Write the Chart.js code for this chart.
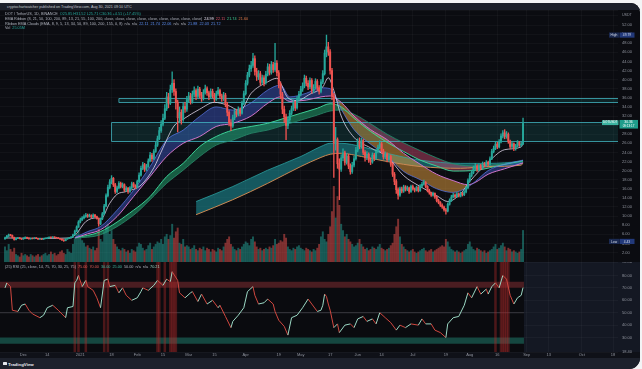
<!DOCTYPE html>
<html>
<head>
<meta charset="utf-8">
<title>DOT / TetherUS, 1D</title>
<script src="https://cdn.jsdelivr.net/npm/chart.js@4.4.1/dist/chart.umd.min.js"></script>
<style>
  html, body { margin: 0; padding: 0; }
  body { width: 642px; height: 369px; background: #f3f4f6; overflow: hidden; font-family: "Liberation Sans", Arial, sans-serif; }
  #frame { position: absolute; left: 0; top: 3px; width: 640px; height: 366px; background: #0b0c11;
           border-top-right-radius: 9px; border-bottom-right-radius: 11px; overflow: hidden; }
  #head { position: absolute; left: 0; top: 0; width: 640px; height: 7px; background: #1b1f2a; }
  #head span { position: absolute; left: 7px; top: 1.5px; font-size: 3.7px; line-height: 4px; color: #c4c7cf; white-space: nowrap; }
  #price { position: absolute; left: 0; top: 7px; }
  #rsi { position: absolute; left: 0; top: 259px; background: #141823; }
  #foot { position: absolute; left: 0; top: 355px; width: 640px; height: 11px; background: #1d212c; }
  #foot span { position: absolute; left: 8px; top: 3.5px; font-size: 4.4px; line-height: 5px; font-weight: bold; color: #e6e8ee; }
  #foot i { position: absolute; left: 2.5px; top: 4px; width: 4.5px; height: 3.2px; background: #e6e8ee; border-radius: 0.6px; }
  .leg { position: absolute; left: 5px; font-size: 3.8px; line-height: 4px; color: #aeb2bc; white-space: nowrap; z-index: 2; }
  .leg b { font-weight: normal; margin-left: 2px; }
</style>
</head>
<body>
<div id="frame">
  <div id="head"><span>cryptochartwatcher published on TradingView.com, Aug 30, 2021 09:10 UTC</span></div>
  <canvas id="price" width="640" height="252"></canvas>
  <canvas id="rsi" width="640" height="96"></canvas>
  <div class="leg" id="leg1" style="top:9.3px"></div>
  <div class="leg" style="top:14px">EMA Ribbon (8, 21, 50, 100, 200, 89, 13, 21, 55, 100, 200, close, close, close, close, close, close, close, close, close)<b style="color:#e9e3f3">24.99</b><b style="color:#e0556a">22.11</b><b style="color:#3fcf95">21.74</b><b style="color:#e07a4a">21.60</b></div>
  <div class="leg" style="top:19px">Ribbon EMA Clouds (EMA, 8, 9, 5, 13, 34, 50, 89, 100, 200, 155, 0, 8)<b>n/a</b><b>n/a</b><b style="color:#5b8df0">22.11</b><b style="color:#5b8df0">21.74</b><b style="color:#5b8df0">22.06</b><b>n/a</b><b>n/a</b><b style="color:#5b8df0">21.88</b><b style="color:#5b8df0">22.03</b><b style="color:#5b8df0">21.72</b></div>
  <div class="leg" id="leg4" style="top:23.3px"></div>
  <div class="leg" id="legRsi" style="top:261.5px"></div>
  <div id="foot"><i></i><span>TradingView</span></div>
</div>

<script>
// ---- daily candles (day 0 = first visible candle, Nov 21 2020) ----
const firstOpen = 5.0;
const closes = [
  5.25, 5.6, 5.9, 5.75, 5.3, 4.85, 5.1, 5.2, 5.05, 4.95,
  5.15, 5.3, 5.2, 5.0, 5.1, 5.05, 5.2, 5.1, 4.95, 5.0,
  4.9, 5.05, 5.1, 5.2, 5.35, 5.25, 5.4, 5.3, 5.2, 5.1,
  4.95, 4.75, 4.6, 4.95, 5.1, 5.25, 5.4, 5.9, 6.7, 7.6,
  8.7, 9.2, 9.6, 9.9, 10.2, 9.95, 10.1, 9.8, 10.2, 9.9,
  9.5, 8.3, 9.4, 10.5, 12.2, 14.5, 16.3, 17.5, 18.3, 16.9,
  15.4, 16.2, 17.2, 16.5, 16.9, 15.7, 16.1, 15.4, 16.2, 17.1,
  16.6, 16.3, 17.6, 19.0, 20.5, 21.3, 20.3, 20.9, 22.1, 23.4,
  22.6, 24.2, 25.6, 27.0, 28.8, 30.2, 31.5, 33.6, 36.2, 34.8,
  37.8, 39.2, 37.4, 35.0, 31.6, 32.8, 31.2, 34.1, 33.5, 35.6,
  36.4, 35.2, 36.8, 37.6, 36.3, 37.9, 36.6, 35.9, 37.2, 38.0,
  37.1, 36.2, 37.4, 36.5, 35.7, 36.9, 37.6, 36.4, 35.8, 36.6,
  34.5, 32.8, 30.5, 29.8, 31.6, 33.0, 32.4, 33.4, 32.6, 34.8,
  36.9, 39.2, 41.0, 42.4, 43.1, 44.6, 41.8, 40.6, 41.3, 39.4,
  40.4, 39.3, 41.2, 42.8, 41.6, 43.3, 42.2, 43.6, 41.5, 39.0,
  36.8, 33.5, 31.8, 29.9, 31.2, 32.6, 33.6, 34.9, 33.8, 35.7,
  36.8, 37.9, 38.6, 40.3, 39.2, 38.4, 39.8, 37.6, 38.3, 39.6,
  38.2, 37.4, 39.5, 41.3, 45.8, 47.2, 46.1, 42.0, 36.4, 26.0,
  26.8, 21.5, 20.3, 22.8, 23.9, 21.8, 23.2, 21.0, 19.8, 21.2,
  22.6, 24.5, 26.4, 25.3, 26.6, 24.0, 22.8, 23.6, 22.3, 21.9,
  23.4, 22.7, 24.2, 25.1, 25.9, 24.3, 23.0, 23.6, 22.4, 23.1,
  21.4, 19.2, 17.6, 15.8, 14.6, 16.0, 15.5, 16.4, 15.9, 16.2,
  15.4, 16.5, 16.0, 15.7, 16.3, 15.6, 16.6, 17.0, 17.4, 16.5,
  15.6, 15.1, 14.6, 15.0, 14.2, 13.4, 13.0, 12.4, 12.0, 11.4,
  11.1, 12.6, 13.4, 14.2, 14.6, 14.3, 14.9, 14.4, 15.0, 14.7,
  15.3, 16.2, 17.8, 18.9, 19.6, 20.5, 21.0, 20.3, 21.1, 20.6,
  21.5, 21.2, 21.8, 21.4, 22.6, 24.2, 24.9, 25.8, 25.2, 26.3,
  27.6, 28.3, 27.5, 28.0, 26.4, 25.3, 25.9, 24.8, 25.4, 26.2,
  25.6, 25.85, 30.36
];
const highs = [
  5.4, 5.75, 6.05, 6.0, 5.85, 5.4, 5.2, 5.32, 5.28, 5.12,
  5.24, 5.42, 5.38, 5.25, 5.18, 5.16, 5.28, 5.26, 5.14, 5.08,
  5.05, 5.12, 5.18, 5.3, 5.45, 5.42, 5.5, 5.46, 5.36, 5.26,
  5.14, 5.0, 4.82, 5.02, 5.18, 5.34, 5.52, 6.05, 6.9, 7.85,
  9.0, 9.55, 9.9, 10.3, 10.6, 10.45, 10.45, 10.3, 10.5, 10.4,
  10.0, 9.6, 9.6, 10.8, 12.6, 14.9, 16.8, 18.0, 18.9, 18.5,
  17.2, 16.6, 17.6, 17.5, 17.3, 17.1, 16.5, 16.3, 16.5, 17.5,
  17.4, 16.9, 17.9, 19.5, 21.0, 21.8, 21.6, 21.4, 22.6, 24.0,
  23.8, 24.6, 26.2, 27.6, 29.5, 31.0, 32.4, 34.5, 37.2, 37.0,
  38.8, 41.7, 40.0, 38.0, 35.5, 34.0, 33.4, 34.8, 35.0, 36.3,
  37.2, 37.0, 37.5, 38.4, 38.0, 38.6, 38.3, 37.2, 37.8, 38.8,
  38.4, 37.5, 38.0, 37.9, 37.0, 37.5, 38.3, 37.9, 36.8, 37.2,
  37.0, 35.0, 33.2, 31.2, 32.2, 33.6, 33.5, 34.0, 33.8, 35.3,
  37.5, 39.8, 41.6, 43.2, 44.0, 45.8, 45.2, 42.5, 42.0, 41.8,
  41.0, 40.9, 41.8, 43.5, 43.4, 44.0, 43.8, 48.0, 44.2, 42.0,
  39.5, 37.2, 34.2, 32.4, 31.8, 33.2, 34.2, 35.5, 35.3, 36.3,
  37.4, 38.5, 39.3, 41.0, 40.8, 39.8, 40.4, 40.2, 38.9, 40.2,
  40.0, 38.7, 40.0, 42.0, 46.5, 49.79, 48.2, 46.6, 42.5, 37.0,
  29.5, 27.2, 22.6, 23.5, 24.8, 24.3, 23.8, 23.6, 21.5, 21.8,
  23.2, 25.1, 27.0, 27.2, 27.1, 26.9, 24.4, 24.2, 23.9, 22.8,
  23.9, 23.8, 24.7, 25.6, 26.6, 26.2, 24.7, 24.1, 23.9, 23.6,
  23.4, 21.7, 19.6, 18.0, 16.2, 16.4, 16.4, 16.8, 16.7, 16.6,
  16.4, 16.8, 16.8, 16.2, 16.6, 16.5, 16.9, 17.4, 17.9, 17.6,
  16.7, 15.9, 15.3, 15.3, 15.1, 14.4, 13.7, 13.2, 12.7, 12.2,
  11.7, 12.9, 13.8, 14.6, 15.0, 14.9, 15.2, 15.1, 15.3, 15.2,
  15.6, 16.5, 18.2, 19.4, 20.1, 21.0, 21.6, 21.3, 21.5, 21.4,
  21.9, 21.8, 22.2, 22.1, 23.0, 24.7, 25.4, 26.4, 26.2, 26.8,
  28.1, 28.8, 29.0, 28.6, 28.3, 26.7, 26.3, 26.1, 25.8, 26.6,
  26.4, 26.2, 31.52
];
const lows = [
  4.92, 5.15, 5.5, 5.62, 5.2, 4.7, 4.78, 5.02, 4.98, 4.85,
  4.9, 5.08, 5.12, 4.92, 4.94, 4.98, 5.0, 5.04, 4.88, 4.9,
  4.82, 4.86, 5.0, 5.05, 5.15, 5.18, 5.2, 5.24, 5.12, 5.02,
  4.86, 4.66, 4.43, 4.56, 4.9, 5.05, 5.2, 5.35, 5.85, 6.6,
  7.5, 8.5, 9.0, 9.4, 9.7, 9.7, 9.8, 9.6, 9.65, 9.7,
  9.3, 7.8, 8.1, 9.2, 10.3, 12.0, 14.2, 16.0, 17.1, 16.5,
  15.0, 15.1, 16.0, 16.2, 16.2, 15.4, 15.4, 15.0, 15.2, 16.0,
  16.3, 16.0, 16.2, 17.4, 18.8, 20.2, 19.8, 20.0, 20.7, 21.9,
  22.0, 22.4, 24.0, 25.3, 26.8, 28.4, 29.8, 31.2, 33.2, 33.8,
  34.5, 37.2, 36.5, 33.5, 28.5, 30.5, 30.2, 30.8, 32.8, 33.0,
  35.0, 34.6, 34.8, 36.2, 35.6, 36.0, 36.0, 35.2, 35.5, 36.8,
  36.5, 35.6, 35.9, 36.0, 35.1, 35.4, 36.5, 35.9, 35.2, 35.4,
  34.0, 32.0, 29.8, 28.8, 29.5, 31.2, 31.8, 32.0, 32.0, 32.4,
  34.5, 36.6, 38.8, 40.6, 41.8, 42.7, 41.0, 39.8, 40.0, 38.8,
  39.0, 38.6, 39.0, 40.8, 41.0, 41.2, 41.6, 41.8, 40.8, 38.2,
  35.8, 32.5, 30.6, 26.8, 29.2, 30.8, 32.2, 33.2, 33.2, 33.5,
  35.3, 36.4, 37.4, 38.2, 38.6, 37.8, 38.0, 37.0, 37.1, 38.0,
  37.6, 36.8, 37.1, 39.1, 41.0, 45.0, 45.3, 41.2, 35.6, 18.5,
  24.5, 20.5, 13.6, 19.8, 22.2, 21.2, 21.4, 20.4, 19.2, 19.4,
  20.8, 22.3, 24.1, 24.8, 24.9, 23.5, 22.1, 22.4, 21.8, 21.3,
  21.6, 22.2, 22.4, 23.9, 24.8, 23.8, 22.5, 22.6, 21.9, 22.0,
  20.9, 18.7, 16.9, 15.0, 13.7, 14.3, 15.1, 15.2, 15.5, 15.6,
  15.0, 15.2, 15.7, 15.3, 15.5, 15.3, 15.4, 16.3, 16.8, 16.2,
  15.3, 14.8, 14.3, 14.4, 13.9, 13.1, 12.7, 12.1, 11.7, 11.1,
  10.4, 10.9, 12.4, 13.2, 14.0, 14.0, 14.1, 14.2, 14.2, 14.4,
  14.5, 15.1, 16.0, 17.5, 18.6, 19.3, 20.1, 19.8, 20.0, 20.2,
  20.4, 20.8, 21.0, 21.0, 21.2, 22.4, 23.9, 24.6, 24.8, 25.0,
  26.1, 27.2, 27.0, 27.1, 26.0, 24.9, 25.0, 24.4, 24.5, 25.2,
  25.3, 25.3, 25.71
];
// volume in millions
const volumes = [
  12, 9, 14, 10, 8, 11,
  6, 5, 4, 7, 5, 6, 5, 4, 6, 5, 4, 5, 6, 4, 5, 6, 7, 5, 6, 8, 6, 7, 5, 6, 8, 9, 7, 6, 10, 8, 7,
  14, 18, 22, 25, 20, 17, 15, 12, 13, 11, 10, 12, 9, 11, 26, 18, 16, 24, 28, 30, 22, 25,
  18, 14, 12, 10, 9, 11, 10, 8, 9, 7, 10, 9, 8, 12, 15, 14, 11, 9, 10,
  13, 15, 10, 12, 14, 16, 15, 18, 14, 20, 22, 18, 21, 30, 19, 24, 27, 15, 14, 18, 12, 13,
  12, 10, 11, 13, 10, 9, 11, 10, 12, 9, 11, 10, 8, 10, 9, 8, 11, 10, 9, 12, 15, 18, 20, 14, 12, 10, 9, 11, 10,
  12, 14, 16, 15, 13, 18, 20, 16, 12, 10, 11, 9, 10, 11, 10, 12, 11, 13, 18, 14, 15, 17, 16, 22, 19,
  12, 10, 9, 11, 10, 12, 13, 11, 10, 9, 11, 10, 9, 8, 10, 9, 11, 14, 20, 24, 18, 16, 22, 28,
  40, 60, 35, 52, 45, 30, 25, 20, 22, 18, 16, 14, 12, 13, 15, 18, 14, 12, 10, 11, 9, 10, 12, 11, 10, 12, 14, 11, 10, 9, 10, 11, 13,
  15, 22, 28, 34, 20, 14, 12, 10, 9, 8, 9, 10, 8, 7, 8, 9, 10, 11, 9, 8, 9, 10, 8, 9, 10, 11, 12, 13, 12, 18,
  16, 12, 10, 9, 8, 9, 8, 7, 8, 9, 10, 14, 16, 12, 10, 9, 11, 10, 9, 8, 9, 7, 8, 9, 10, 12, 14, 10, 11, 13,
  15, 12, 9, 11, 10, 8, 9, 8, 7, 8, 10, 25.05
];

// EMA ribbon lines, read as sparse points (day, price)
const fastDays = [0, 20, 36, 39, 44, 50, 52, 57, 61, 66, 74, 81, 86, 92, 97, 106, 114, 121, 128, 134, 143, 148, 154, 159, 166, 173, 176, 179, 183, 190, 199, 208, 217, 226, 235, 241, 248, 253, 262, 272, 281, 282];
const fastVals = [5.2, 5.1, 5.2, 6.2, 8.8, 9.6, 9.3, 12.8, 14.8, 15.4, 16.8, 20.6, 25.0, 29.8, 31.3, 33.5, 35.0, 34.4, 33.2, 37.0, 39.5, 40.3, 36.0, 35.4, 36.8, 38.4, 40.4, 37.6, 32.0, 27.3, 25.0, 23.1, 18.9, 16.5, 14.5, 13.2, 14.9, 17.6, 21.4, 24.6, 25.2, 25.9];

const cloud1Days = [38, 45, 52, 61, 70, 79, 88, 97, 106, 115, 124, 134, 143, 150, 155, 164, 172, 177, 183, 190, 199, 208, 217, 226, 235, 244, 252, 256, 263, 272, 282];
const cloud1Fast = [5.3, 6.6, 7.7, 11.3, 15.7, 20.9, 26.7, 28.9, 31.9, 34.0, 33.3, 34.9, 37.7, 38.8, 36.2, 37.0, 38.2, 38.0, 33.5, 29.0, 25.8, 23.2, 19.8, 18.0, 16.0, 15.2, 16.4, 17.6, 20.0, 21.4, 22.3];
const cloud1Slow = [5.2, 6.1, 7.0, 9.9, 14.3, 18.7, 23.1, 26.0, 27.5, 29.7, 30.4, 32.0, 34.8, 36.2, 35.2, 35.5, 36.2, 36.4, 35.0, 32.0, 29.0, 26.8, 23.8, 21.4, 19.2, 17.8, 16.9, 17.4, 19.2, 20.4, 21.7];

const cloud2Days = [38, 52, 70, 79, 88, 97, 106, 115, 124, 134, 143, 152, 161, 170, 177, 183, 190, 199, 208, 217, 226, 235, 244, 257, 270, 281, 282];
const cloud2Fast = [5.2, 6.6, 11.3, 14.3, 18.7, 21.6, 25.3, 27.5, 28.9, 29.7, 30.4, 31.5, 32.6, 33.7, 34.7, 34.0, 31.5, 28.6, 26.2, 24.2, 22.3, 21.0, 19.9, 20.1, 21.2, 22.1, 22.2];
const cloud2Slow = [5.15, 5.9, 10.2, 13.6, 17.2, 20.1, 23.1, 25.6, 26.7, 28.2, 28.9, 30.0, 31.1, 32.2, 33.1, 33.3, 32.4, 30.3, 28.0, 26.1, 24.4, 22.8, 21.5, 21.0, 21.4, 21.95, 21.95];

const cloud3Days = [104, 124, 143, 161, 172, 177, 183, 194, 208, 226, 248, 263, 281, 282];
const cloud3Fast = [13.2, 16.5, 20.1, 23.1, 25.3, 26.0, 26.0, 25.3, 23.8, 22.3, 21.6, 21.6, 22.0, 22.05];
const cloud3Slow = [10.3, 13.6, 17.2, 20.9, 22.9, 23.6, 23.8, 23.1, 22.0, 20.9, 20.5, 20.9, 21.2, 21.7];

// horizontal zones (start day, top, bottom price)
const zoneStart = [62, 58];
const zoneTop = [35.9, 30.75];
const zoneBottom = [35.15, 26.57];

// RSI pane
const rsiDays = [0, 1, 3, 4, 7, 9, 11, 13, 15, 19, 21, 23, 26, 29, 31, 33, 34, 37, 38, 39,
  40, 42, 44, 45, 48, 50, 52, 54, 56, 57, 60, 62, 64, 66, 69, 72, 74, 75, 78, 81,
  83, 86, 88, 90, 91, 94, 95, 98, 101, 102, 105, 107, 110, 113, 116, 117, 120, 123, 124, 127,
  130, 132, 135, 136, 138, 141, 143, 146, 147, 149, 152, 154, 156, 159, 162, 165, 167, 170, 172, 173,
  174, 175, 176, 177, 179, 181, 182, 185, 188, 190, 192, 195, 197, 200, 202, 204, 207, 210, 213, 215,
  218, 221, 225, 227, 229, 232, 234, 237, 240, 241, 244, 247, 250, 252, 254, 257, 259, 262, 263, 265,
  267, 269, 271, 273, 275, 277, 279, 281, 282];
const rsiValues = [70, 74, 71, 52, 51, 56, 57, 52, 49, 46, 48, 54, 56, 52, 49, 46, 54, 55, 74, 76,
  80, 71, 76, 71, 68, 62, 54, 76, 77, 71, 72, 66, 70, 64, 60, 62, 67, 70, 68, 72,
  76, 72, 77, 75, 83, 76, 66, 62, 66, 67, 59, 65, 57, 60, 54, 56, 47, 38, 43, 48,
  54, 67, 71, 64, 57, 58, 61, 57, 51, 44, 39, 32, 46, 48, 54, 61, 57, 51, 52, 56,
  65, 63, 57, 52, 38, 41, 34, 40, 41, 38, 45, 47, 43, 45, 41, 50, 46, 42, 36, 40,
  38, 41, 40, 45, 41, 41, 36, 34, 30, 41, 46, 47, 56, 66, 62, 71, 65, 69, 65, 71,
  74, 70, 80, 77, 64, 57, 62, 64, 70.21];
const rsiHotDays = [38, 40, 44, 54, 56, 83, 84, 87, 90, 91, 92, 93, 267, 270, 271, 272, 273, 274];
const rsiUpperBand = [70, 75];
const rsiLowerBand = [25, 30];
const rsiMid = 50;

// time axis
const dateTickDays = [10, 23, 41, 58, 72, 86, 100, 114, 131, 149, 161, 177, 192, 205, 222, 240, 253, 268, 284, 296, 314, 331];
const dateTickLabels = ['Dec', '14', '2021', '18', 'Feb', '15', 'Mar', '15', 'Apr', '19', 'May', '17', 'Jun', '14', 'Jul', '19', 'Aug', '16', 'Sep', '13', 'Oct', '18'];

// ---- view window ----
const PX_PER_DAY = 1.837, FIRST_X = 5, PLOT_RIGHT = 618, AXIS_W = 22;
const X_MIN = -FIRST_X / PX_PER_DAY;
const X_MAX = (PLOT_RIGHT - FIRST_X) / PX_PER_DAY;
const P_MIN = -0.09, P_MAX = 55.3, VOL_MAX = 200;
const R_MIN = 18.4, R_MAX = 90.8;
const FONT = '"Liberation Sans", Arial, sans-serif';
const GRID = 'rgba(255,255,255,0.03)';
const LABEL = '#8f939d';
const UP = '#26a69a', DOWN = '#ef5350';

const opens = closes.map((c, i) => (i === 0 ? firstOpen : closes[i - 1]));
const isUp = closes.map((c, i) => c >= opens[i]);
const lastDay = closes.length - 1;
const maxHigh = Math.max(...highs), minLow = Math.min(...lows);
const pts = (days, vals) => days.map((d, i) => ({ x: d, y: vals[i] }));

// legend text from the data
const lastClose = closes[lastDay], chg = lastClose - opens[lastDay];
document.getElementById('leg1').innerHTML = 'DOT / TetherUS, 1D, BINANCE' +
  `<b style="color:${UP}">O${opens[lastDay].toFixed(2)} H${highs[lastDay].toFixed(2)} L${lows[lastDay].toFixed(2)} C${lastClose.toFixed(2)} +${chg.toFixed(2)} (+${(chg / opens[lastDay] * 100).toFixed(2)}%)</b>`;
document.getElementById('leg4').innerHTML = `Vol<b style="color:${UP}">${volumes[lastDay].toFixed(2)}M</b>`;
document.getElementById('legRsi').innerHTML = '(25) RSI (25, close, 14, 75, 70, 30, 25, 75)' +
  '<b style="color:#e25b57">75.00</b><b style="color:#e25b57">70.00</b><b style="color:#3fb79f">30.00</b><b style="color:#3fb79f">25.00</b><b>50.00</b><b>n/a</b><b>n/a</b>' +
  `<b style="color:#9bd8c4">${rsiValues[rsiValues.length - 1].toFixed(2)}</b>`;

function lineSet(data, color, width, order, fill) {
  return { type: 'line', data, borderColor: color, borderWidth: width, pointRadius: 0,
           cubicInterpolationMode: 'monotone', order, fill: fill || false, clip: 0 };
}

// zones drawn through the scales
const zonesPlugin = {
  id: 'zones',
  beforeDatasetsDraw(chart) {
    const { ctx, chartArea: a, scales: { x, y } } = chart;
    ctx.save();
    zoneStart.forEach((d, k) => {
      const x0 = x.getPixelForValue(d);
      const y0 = Math.round(y.getPixelForValue(zoneTop[k])) + 0.5;
      const y1 = Math.round(y.getPixelForValue(zoneBottom[k])) + 0.5;
      ctx.fillStyle = 'rgba(40,190,185,0.13)';
      ctx.fillRect(x0, y0, a.right - x0, y1 - y0);
      ctx.strokeStyle = 'rgba(70,190,200,0.75)';
      ctx.lineWidth = 1;
      ctx.beginPath();
      ctx.moveTo(a.right, y0); ctx.lineTo(x0, y0); ctx.lineTo(x0, y1); ctx.lineTo(a.right, y1);
      ctx.stroke();
    });
    ctx.restore();
  }
};

// price-scale tags (high / low / last)
const tagsPlugin = {
  id: 'tags',
  afterDraw(chart) {
    const { ctx, scales: { y } } = chart;
    const f = s => `${s}px ${FONT}`;
    ctx.save();
    ctx.textBaseline = 'middle';
    ctx.textAlign = 'left';
    ctx.fillStyle = LABEL;
    ctx.font = f(3.6);
    ctx.fillText('USDT', 622, 5);
    ctx.textAlign = 'center';
    [['High', maxHigh], ['Low', minLow]].forEach(([name, v]) => {
      const py = y.getPixelForValue(v);
      ctx.fillStyle = '#1b2a52';
      ctx.fillRect(609, py - 2.6, 10, 5.2);
      ctx.fillStyle = '#22397a';
      ctx.fillRect(619.5, py - 2.6, 15, 5.2);
      ctx.fillStyle = '#d5dbe8';
      ctx.font = f(3.3);
      ctx.fillText(name, 614, py + 0.2);
      ctx.fillText(v.toFixed(2), 627, py + 0.2);
    });
    const ly = y.getPixelForValue(lastClose);
    ctx.fillStyle = '#3bb3a0';
    ctx.fillRect(602, ly - 3.2, 16.5, 4.8);
    ctx.fillStyle = '#1f9d8b';
    ctx.fillRect(619.5, ly - 3.5, 18.5, 8.6);
    ctx.fillStyle = '#ffffff';
    ctx.font = f(3.4);
    ctx.fillText(lastClose.toFixed(2), 628.5, ly - 1.2);
    ctx.font = f(3);
    ctx.fillText('09:13:17', 628.5, ly + 2.6);
    ctx.fillText('DOTUSDT', 610.2, ly - 0.8);
    ctx.restore();
  }
};

const xScale = (showLabels, h) => ({
  type: 'linear', min: X_MIN, max: X_MAX, offset: false,
  grid: { color: GRID, drawTicks: false, offset: false },
  border: { display: false },
  ticks: { display: showLabels, autoSkip: false, maxRotation: 0, padding: 0.6, color: LABEL,
           font: { size: 4, family: FONT }, callback: (v, i) => dateTickLabels[i] },
  afterBuildTicks: s => { s.ticks = dateTickDays.map(v => ({ value: v })); },
  afterFit: s => { s.height = h; s.paddingLeft = 0; s.paddingRight = 0; }
});

// ---- price pane ----
new Chart(document.getElementById('price'), {
  type: 'bar',
  data: {
    datasets: [
      { type: 'bar', data: volumes.map((v, i) => ({ x: i, y: v })), yAxisID: 'yv',
        backgroundColor: isUp.map(u => (u ? 'rgba(38,166,154,0.5)' : 'rgba(239,83,80,0.5)')),
        barThickness: 1.3, grouped: false, order: 9, clip: 0 },
      lineSet(pts(cloud3Days, cloud3Slow), '#c98a55', 1, 8),
      lineSet(pts(cloud3Days, cloud3Fast), 'rgba(45,170,170,0.9)', 0.8, 7,
        { target: 1, above: 'rgba(28,140,148,0.6)', below: 'rgba(190,90,70,0.45)' }),
      lineSet(pts(cloud2Days, cloud2Slow), '#23916d', 0.8, 6),
      lineSet(pts(cloud2Days, cloud2Fast), '#3ccf95', 1, 5,
        { target: 3, above: 'rgba(34,160,110,0.55)', below: 'rgba(190,70,105,0.5)' }),
      lineSet(pts(cloud1Days, cloud1Slow), '#cf74cc', 1, 4),
      lineSet(pts(cloud1Days, cloud1Fast), 'rgba(90,120,230,0.9)', 0.8, 3,
        { target: 5, above: 'rgba(62,92,205,0.45)', below: 'rgba(215,150,60,0.55)' }),
      lineSet(pts(fastDays, fastVals), 'rgba(232,222,242,0.85)', 0.9, 2),
      { type: 'bar', data: closes.map((c, i) => ({ x: i, y: [lows[i], highs[i]] })),
        backgroundColor: isUp.map(u => (u ? UP : DOWN)), barThickness: 0.7, grouped: false, order: 1, clip: 0 },
      { type: 'bar', data: closes.map((c, i) => ({ x: i, y: [opens[i], c] })),
        backgroundColor: isUp.map(u => (u ? UP : DOWN)), barThickness: 1.3, minBarLength: 0.6,
        grouped: false, order: 0, clip: 0 }
    ]
  },
  options: {
    responsive: false, animation: false, events: [],
    layout: { padding: 0 },
    plugins: { legend: { display: false }, tooltip: { enabled: false }, filler: { drawTime: 'beforeDatasetsDraw' } },
    scales: {
      x: xScale(false, 0),
      y: { position: 'right', min: P_MIN, max: P_MAX,
           grid: { color: GRID, drawTicks: false }, border: { display: false },
           ticks: { stepSize: 2, padding: 4, color: LABEL, font: { size: 4, family: FONT },
                    callback: v => (v <= 0 || v > 52 ? '' : v.toFixed(2)) },
           afterFit: s => { s.width = AXIS_W; s.paddingTop = 0; s.paddingBottom = 0; } },
      yv: { display: false, min: 0, max: VOL_MAX }
    }
  },
  plugins: [zonesPlugin, tagsPlugin]
});

// ---- RSI pane ----
const spanLine = v => [{ x: X_MIN - 1, y: v }, { x: lastDay + 0.5, y: v }];
const rowPlugin = {
  id: 'row',
  beforeDraw(chart) {
    const { ctx, chartArea: a } = chart;
    ctx.save();
    ctx.fillStyle = '#0f1118';
    ctx.fillRect(0, a.bottom, chart.width, chart.height - a.bottom);
    ctx.restore();
  }
};
new Chart(document.getElementById('rsi'), {
  type: 'line',
  data: {
    datasets: [
      { data: pts(rsiDays, rsiValues), borderWidth: 1, pointRadius: 0, tension: 0, order: 0, clip: 0,
        segment: { borderColor: c => (c.p1.parsed.y >= c.p0.parsed.y ? '#9bd8c4' : '#d0473f') } },
      { type: 'bar', data: rsiHotDays.map(d => ({ x: d, y: [0, 100] })),
        backgroundColor: 'rgba(170,40,40,0.42)', barThickness: 1.9, grouped: false, order: 1, clip: 0 },
      { data: spanLine(rsiMid), borderColor: 'rgba(150,150,160,0.35)', borderWidth: 1, pointRadius: 0, order: 2, clip: 0 },
      { data: spanLine(rsiUpperBand[1]), borderWidth: 0, pointRadius: 0, order: 3, clip: 0,
        fill: 4, backgroundColor: 'rgba(165,55,60,0.42)' },
      { data: spanLine(rsiUpperBand[0]), borderWidth: 0, pointRadius: 0, order: 4, clip: 0 },
      { data: spanLine(rsiLowerBand[1]), borderWidth: 0, pointRadius: 0, order: 5, clip: 0,
        fill: 6, backgroundColor: 'rgba(35,145,125,0.45)' },
      { data: spanLine(rsiLowerBand[0]), borderWidth: 0, pointRadius: 0, order: 6, clip: 0 },
      { data: spanLine(100), borderWidth: 0, pointRadius: 0, order: 7, clip: 0,
        fill: 'start', backgroundColor: '#0a0b0f' }
    ]
  },
  options: {
    responsive: false, animation: false, events: [],
    layout: { padding: 0 },
    plugins: { legend: { display: false }, tooltip: { enabled: false }, filler: { drawTime: 'beforeDatasetsDraw' } },
    scales: {
      x: xScale(true, 6),
      y: { position: 'right', min: R_MIN, max: R_MAX,
           grid: { color: GRID, drawTicks: false }, border: { display: false },
           ticks: { stepSize: 10, padding: 4, color: LABEL, font: { size: 4, family: FONT },
                    callback: v => v.toFixed(2) },
           afterFit: s => { s.width = AXIS_W; s.paddingTop = 0; s.paddingBottom = 0; } }
    }
  },
  plugins: [rowPlugin]
});
</script>
</body>
</html>
